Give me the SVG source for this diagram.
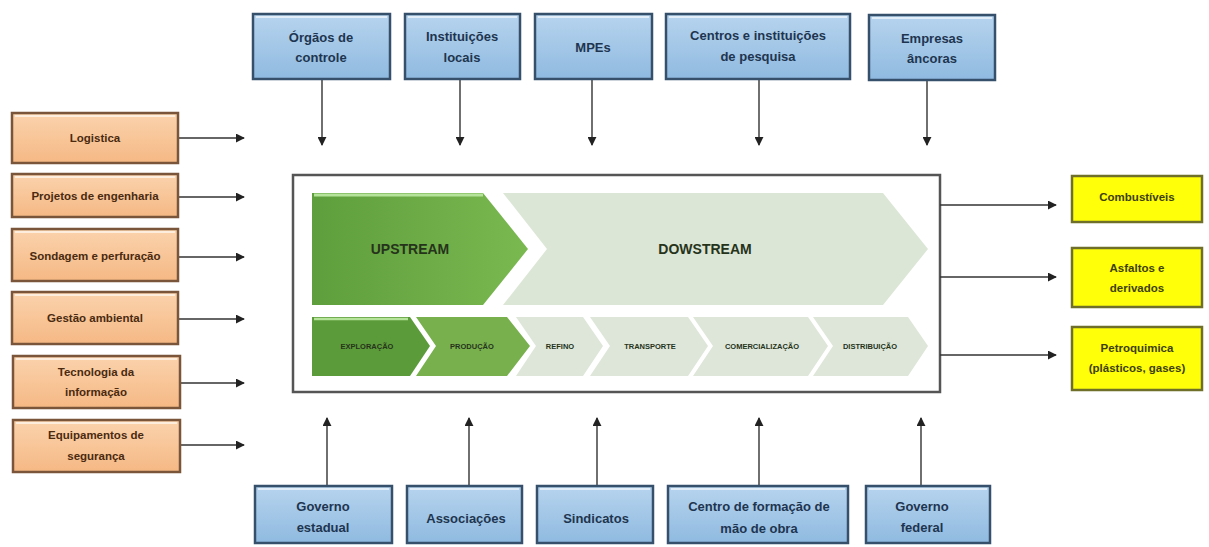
<svg xmlns="http://www.w3.org/2000/svg" width="1209" height="547" viewBox="0 0 1209 547">
  <style>
    .lbl { font-family: "Liberation Sans", Arial, sans-serif; font-weight: bold; text-anchor: middle; dominant-baseline: central; }
    .blue rect.box { fill: url(#gBlue); stroke: #36506c; stroke-width: 2.5; }
    .blue text { fill: #1e3550; font-size: 13px; }
    .orange rect.box { fill: url(#gOrange); stroke: #7a553a; stroke-width: 2.5; }
    .orange text { fill: #4a2a10; font-size: 11.5px; }
    .yellow rect.box { fill: #ffff0a; stroke: #6f6f2a; stroke-width: 2.5; }
    .yellow text { fill: #3e3e10; font-size: 11.5px; }
    .hl { stroke: #ffffff; stroke-opacity: 0.6; stroke-width: 2; }
    .conn line { stroke: #333; stroke-width: 1.4; marker-end: url(#arrow); }
    .stage { font-family: "Liberation Sans", Arial, sans-serif; font-weight: bold; text-anchor: middle; dominant-baseline: central; fill: #26331b; }
  </style>
  <defs>
    <marker id="arrow" viewBox="0 0 10 10" refX="9" refY="5" markerWidth="9" markerHeight="9" markerUnits="userSpaceOnUse" orient="auto">
      <path d="M0,0 L10,5 L0,10 z" fill="#222"/>
    </marker>
    <linearGradient id="gBlue" x1="0" y1="0" x2="0" y2="1">
      <stop offset="0" stop-color="#b7d4ee"/>
      <stop offset="1" stop-color="#8fbae0"/>
    </linearGradient>
    <linearGradient id="gOrange" x1="0" y1="0" x2="0" y2="1">
      <stop offset="0" stop-color="#fbd3ad"/>
      <stop offset="1" stop-color="#f5b884"/>
    </linearGradient>
    <linearGradient id="gUp" x1="0" y1="0" x2="1" y2="0">
      <stop offset="0" stop-color="#5e9e3c"/>
      <stop offset="1" stop-color="#7ab850"/>
    </linearGradient>
  </defs>

  <rect width="1209" height="547" fill="#ffffff"/>

  <!-- central value chain frame -->
  <g id="chain">
    <rect x="293" y="175" width="647" height="217" fill="#ffffff" stroke="#555" stroke-width="2.5"/>
    <polygon points="312,193 483,193 528,249 483,305 312,305" fill="url(#gUp)"/>
    <line x1="314" y1="195" x2="483" y2="195" stroke="#b6e39a" stroke-width="3"/>
    <polygon points="503,193 883,193 928,249 883,305 503,305 547,249" fill="#dce6d6"/>
    <text class="stage" x="410" y="249" font-size="14">UPSTREAM</text>
    <text class="stage" x="705" y="249" font-size="14">DOWSTREAM</text>

    <polygon points="312,317 410,317 430,346 410,376 312,376" fill="#5c9b3a"/>
    <line x1="314" y1="319" x2="408" y2="319" stroke="#b6e39a" stroke-width="2.5"/>
    <polygon points="416,317 507,317 530,346 507,376 416,376 436,346" fill="#78b04e"/>
    <polygon points="516,317 583,317 603,346 583,376 516,376 536,346" fill="#dde6d8"/>
    <polygon points="590,317 688,317 708,346 688,376 590,376 610,346" fill="#dde6d8"/>
    <polygon points="693,317 808,317 828,346 808,376 693,376 713,346" fill="#dde6d8"/>
    <polygon points="813,317 908,317 928,346 908,376 813,376 833,346" fill="#dde6d8"/>
    <text class="stage" x="367" y="346" font-size="7.5">EXPLORAÇÃO</text>
    <text class="stage" x="472" y="346" font-size="7.5">PRODUÇÃO</text>
    <text class="stage" x="560" y="346" font-size="7.5">REFINO</text>
    <text class="stage" x="650" y="346" font-size="7.5">TRANSPORTE</text>
    <text class="stage" x="762" y="346" font-size="7.5">COMERCIALIZAÇÃO</text>
    <text class="stage" x="870" y="346" font-size="7.5">DISTRIBUIÇÃO</text>
  </g>

  <!-- connectors -->
  <g class="conn">
    <line x1="322" y1="80" x2="322" y2="145"/>
    <line x1="460" y1="80" x2="460" y2="145"/>
    <line x1="592" y1="80" x2="592" y2="145"/>
    <line x1="759" y1="80" x2="759" y2="145"/>
    <line x1="927" y1="80" x2="927" y2="145"/>

    <line x1="178" y1="138" x2="244" y2="138"/>
    <line x1="178" y1="197" x2="244" y2="197"/>
    <line x1="178" y1="257" x2="244" y2="257"/>
    <line x1="178" y1="319" x2="244" y2="319"/>
    <line x1="180" y1="383" x2="244" y2="383"/>
    <line x1="180" y1="445" x2="244" y2="445"/>

    <line x1="940" y1="205" x2="1056" y2="205"/>
    <line x1="940" y1="277" x2="1056" y2="277"/>
    <line x1="940" y1="355" x2="1056" y2="355"/>

    <line x1="327" y1="485" x2="327" y2="418"/>
    <line x1="469" y1="485" x2="469" y2="418"/>
    <line x1="597" y1="485" x2="597" y2="418"/>
    <line x1="759" y1="485" x2="759" y2="418"/>
    <line x1="921" y1="485" x2="921" y2="418"/>
  </g>

  <!-- top actors -->
  <g id="orgaos-controle" class="blue">
    <rect class="box" x="253" y="14" width="137" height="65"/>
    <line class="hl" x1="256" y1="17" x2="387" y2="17"/>
    <text class="lbl" x="321" y="37">Órgãos de</text>
    <text class="lbl" x="321" y="57">controle</text>
  </g>
  <g id="instituicoes-locais" class="blue">
    <rect class="box" x="405" y="14" width="115" height="65"/>
    <line class="hl" x1="408" y1="17" x2="517" y2="17"/>
    <text class="lbl" x="462" y="36">Instituições</text>
    <text class="lbl" x="462" y="57">locais</text>
  </g>
  <g id="mpes" class="blue">
    <rect class="box" x="535" y="14" width="117" height="65"/>
    <line class="hl" x1="538" y1="17" x2="649" y2="17"/>
    <text class="lbl" x="593" y="47">MPEs</text>
  </g>
  <g id="centros-pesquisa" class="blue">
    <rect class="box" x="666" y="14" width="184" height="65"/>
    <line class="hl" x1="669" y1="17" x2="847" y2="17"/>
    <text class="lbl" x="758" y="35">Centros e instituições</text>
    <text class="lbl" x="758" y="56">de pesquisa</text>
  </g>
  <g id="empresas-ancoras" class="blue">
    <rect class="box" x="869" y="15" width="126" height="65"/>
    <line class="hl" x1="872" y1="18" x2="992" y2="18"/>
    <text class="lbl" x="932" y="38">Empresas</text>
    <text class="lbl" x="932" y="58">âncoras</text>
  </g>

  <!-- supplier services -->
  <g id="logistica" class="orange">
    <rect class="box" x="12" y="113" width="166" height="50"/>
    <line class="hl" x1="15" y1="116" x2="175" y2="116"/>
    <text class="lbl" x="95" y="138">Logistica</text>
  </g>
  <g id="projetos-engenharia" class="orange">
    <rect class="box" x="12" y="174" width="166" height="43"/>
    <line class="hl" x1="15" y1="177" x2="175" y2="177"/>
    <text class="lbl" x="95" y="196">Projetos de engenharia</text>
  </g>
  <g id="sondagem-perfuracao" class="orange">
    <rect class="box" x="12" y="229" width="166" height="52"/>
    <line class="hl" x1="15" y1="232" x2="175" y2="232"/>
    <text class="lbl" x="95" y="256">Sondagem e perfuração</text>
  </g>
  <g id="gestao-ambiental" class="orange">
    <rect class="box" x="12" y="292" width="166" height="52"/>
    <line class="hl" x1="15" y1="295" x2="175" y2="295"/>
    <text class="lbl" x="95" y="318">Gestão ambiental</text>
  </g>
  <g id="tecnologia-informacao" class="orange">
    <rect class="box" x="13" y="356" width="167" height="52"/>
    <line class="hl" x1="16" y1="359" x2="177" y2="359"/>
    <text class="lbl" x="96" y="372">Tecnologia da</text>
    <text class="lbl" x="96" y="392">informação</text>
  </g>
  <g id="equipamentos-seguranca" class="orange">
    <rect class="box" x="13" y="420" width="167" height="52"/>
    <line class="hl" x1="16" y1="423" x2="177" y2="423"/>
    <text class="lbl" x="96" y="435">Equipamentos de</text>
    <text class="lbl" x="96" y="456">segurança</text>
  </g>

  <!-- products -->
  <g id="combustiveis" class="yellow">
    <rect class="box" x="1072" y="176" width="130" height="46"/>
    <text class="lbl" x="1137" y="197">Combustíveis</text>
  </g>
  <g id="asfaltos-derivados" class="yellow">
    <rect class="box" x="1072" y="248" width="130" height="59"/>
    <text class="lbl" x="1137" y="268">Asfaltos e</text>
    <text class="lbl" x="1137" y="288">derivados</text>
  </g>
  <g id="petroquimica" class="yellow">
    <rect class="box" x="1072" y="327" width="130" height="63"/>
    <text class="lbl" x="1137" y="348">Petroquimica</text>
    <text class="lbl" x="1137" y="368">(plásticos, gases)</text>
  </g>

  <!-- bottom actors -->
  <g id="governo-estadual" class="blue">
    <rect class="box" x="255" y="486" width="137" height="57"/>
    <line class="hl" x1="258" y1="489" x2="389" y2="489"/>
    <text class="lbl" x="323" y="506">Governo</text>
    <text class="lbl" x="323" y="527">estadual</text>
  </g>
  <g id="associacoes" class="blue">
    <rect class="box" x="407" y="486" width="115" height="57"/>
    <line class="hl" x1="410" y1="489" x2="519" y2="489"/>
    <text class="lbl" x="466" y="518">Associações</text>
  </g>
  <g id="sindicatos" class="blue">
    <rect class="box" x="537" y="486" width="116" height="57"/>
    <line class="hl" x1="540" y1="489" x2="650" y2="489"/>
    <text class="lbl" x="596" y="518">Sindicatos</text>
  </g>
  <g id="centro-formacao" class="blue">
    <rect class="box" x="668" y="486" width="180" height="57"/>
    <line class="hl" x1="671" y1="489" x2="845" y2="489"/>
    <text class="lbl" x="759" y="506">Centro de formação de</text>
    <text class="lbl" x="759" y="528">mão de obra</text>
  </g>
  <g id="governo-federal" class="blue">
    <rect class="box" x="866" y="486" width="124" height="57"/>
    <line class="hl" x1="869" y1="489" x2="987" y2="489"/>
    <text class="lbl" x="922" y="506">Governo</text>
    <text class="lbl" x="922" y="527">federal</text>
  </g>
</svg>
